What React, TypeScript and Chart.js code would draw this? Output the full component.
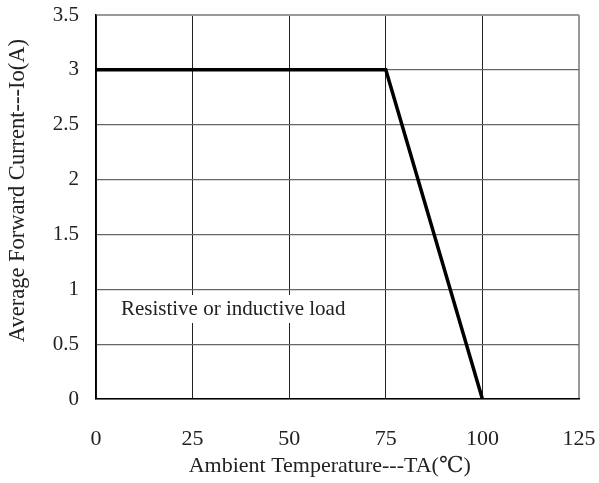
import React, { useEffect, useRef } from "react";
import { Chart, registerables } from "chart.js";

Chart.register(...registerables);

const temps = [0, 75, 100];
const currents = [3, 3, 0];
const xTicks = [0, 25, 50, 75, 100, 125];
const yTicks = [0, 0.5, 1, 1.5, 2, 2.5, 3, 3.5];
const noteText = "Resistive or inductive load";
const notePos = { x: 35.5, y: 0.82 };
const yTitle = "Average Forward Current---Io(A)";
const xTitle = "Ambient Temperature---TA(℃)";

const FONT = "'Liberation Serif', 'DejaVu Serif', serif";

const notePlugin = {
  id: "note",
  afterDatasetsDraw(chart: any) {
    const { ctx, scales } = chart;
    const px = scales.x.getPixelForValue(notePos.x);
    const py = scales.y.getPixelForValue(notePos.y);
    ctx.save();
    ctx.font = `21px ${FONT}`;
    ctx.textAlign = "center";
    ctx.textBaseline = "middle";
    const w = ctx.measureText(noteText).width;
    ctx.fillStyle = "#fff";
    ctx.fillRect(px - w / 2 - 8, py - 14, w + 16, 28);
    ctx.fillStyle = "#222";
    ctx.fillText(noteText, px, py);
    // x axis title
    ctx.font = `22px ${FONT}`;
    ctx.fillText(xTitle, scales.x.getPixelForValue(60.5), 466);
    // y axis title, centred a little above the plot centre as in the reference
    const cy = scales.y.getPixelForValue(1.9);
    ctx.translate(18, cy);
    ctx.rotate(-Math.PI / 2);
    ctx.font = `22.5px ${FONT}`;
    ctx.fillText(yTitle, 0, 0);
    ctx.restore();
  },
};

export default function App() {
  const ref = useRef<HTMLCanvasElement>(null);
  useEffect(() => {
    document.body.style.margin = "0";
    const chart = new Chart(ref.current!, {
      type: "line",
      data: {
        datasets: [
          {
            data: temps.map((t, i) => ({ x: t, y: currents[i] })),
            borderColor: "#000",
            borderWidth: 3.5,
            pointRadius: 0,
            tension: 0,
            fill: false,
          },
        ],
      },
      options: {
        animation: false,
        responsive: false,
        layout: { padding: { top: 15, right: 20, left: 0, bottom: 0 } },
        plugins: { legend: { display: false }, tooltip: { enabled: false } },
        scales: {
          x: {
            type: "linear",
            min: 0,
            max: 125,
            afterBuildTicks: (s: any) => {
              s.ticks = xTicks.map((v) => ({ value: v }));
            },
            afterFit: (s: any) => {
              s.height = 84;
              s.paddingLeft = 0;
              s.paddingRight = 0;
            },
            ticks: {
              color: "#222",
              font: { family: FONT, size: 22 },
              padding: 27,
              maxRotation: 0,
              callback: (v: any) => String(v),
            },
            grid: {
              drawTicks: false,
              color: (c: any) => (c.tick && c.tick.value === 125 ? "#999" : "#222"),
              lineWidth: (c: any) => (c.tick && c.tick.value === 125 ? 2 : 1),
            },
            border: { color: "#000", width: 1.5 },
          },
          y: {
            type: "linear",
            min: 0,
            max: 3.5,
            afterBuildTicks: (s: any) => {
              s.ticks = yTicks.map((v) => ({ value: v }));
            },
            afterFit: (s: any) => {
              s.width = 96;
              s.paddingTop = 0;
              s.paddingBottom = 0;
            },
            ticks: {
              color: "#222",
              font: { family: FONT, size: 21 },
              padding: 17,
              callback: (v: any) => String(v),
            },
            grid: {
              drawTicks: false,
              color: (c: any) => (c.tick && c.tick.value === 3.5 ? "#999" : "#666"),
              lineWidth: (c: any) => (c.tick && c.tick.value === 3.5 ? 2 : 1.2),
            },
            border: { color: "#000", width: 1.5 },
          },
        },
      },
      plugins: [notePlugin],
    });
    return () => chart.destroy();
  }, []);
  return (
    <div style={{ width: 599, height: 483, background: "#fff" }}>
      <canvas ref={ref} width={599} height={483} />
    </div>
  );
}
